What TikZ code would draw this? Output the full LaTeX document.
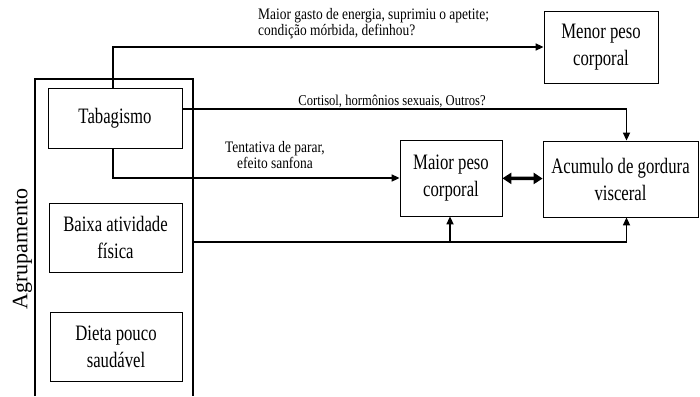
\documentclass[tikz,border=0pt]{standalone}
\usepackage{fontspec}
\setmainfont{Liberation Serif}
\newfontfamily\estreita[FakeStretch=0.76]{Liberation Serif}
\newfontfamily\rotfonte[FakeStretch=0.84]{Liberation Serif}
\usetikzlibrary{arrows.meta}

\begin{document}
\begin{tikzpicture}[x=1pt,y=-1pt,
  >={Triangle[length=8pt,width=7pt]},
  caixa/.style={draw, line width=0.8pt, align=center, inner sep=0pt,
    font=\estreita\fontsize{22}{27}\selectfont},
  rotulo/.style={font=\rotfonte\fontsize{16}{15.5}\selectfont, inner sep=1pt},
  liga/.style={line width=1.6pt}]
\useasboundingbox (0,0) rectangle (700,396);

% grupo de fatores
\draw [liga] (35,396) |- (193,79) -- (193,396);
\node [font=\fontsize{22}{26}\selectfont, rotate=90, inner sep=0pt] (agrup) at (22.5,249) {Agrupamento};
\coordinate (sai) at (193,242);

\node [caixa, minimum width=134pt, minimum height=60pt] (taba) at (115,118) {Tabagismo};
\node [caixa, minimum width=133pt, minimum height=69pt] (baixa) at (115.5,237.5) {Baixa atividade\\física};
\node [caixa, minimum width=132pt, minimum height=69pt] (dieta) at (116,346.5) {Dieta pouco\\saudável};

% desfechos
\node [caixa, minimum width=114pt, minimum height=72pt] (menor) at (601,47) {Menor peso\\corporal};
\node [caixa, minimum width=102pt, minimum height=76pt] (maior) at (451,178) {Maior peso\\corporal};
\node [caixa, minimum width=155pt, minimum height=76pt] (acum) at (620.5,179) {Acumulo de gordura\\visceral};

% ligacoes
\draw [liga, ->] ([xshift=-2pt]taba.north) |- (menor.west);
\draw [liga, ->] ([yshift=9pt]taba.east) -| ([xshift=6pt]acum.north);
\draw [liga, ->] ([xshift=-2pt]taba.south) |- (maior.west);
\draw [liga, ->] (sai) -| ([xshift=6pt]acum.south);
\draw [liga, ->] ([xshift=-1pt]maior.south |- sai) -- ([xshift=-1pt]maior.south);
\draw [line width=3.5pt, {Triangle[length=9pt,width=11pt]}-{Triangle[length=9pt,width=11pt]}] (maior) -- (acum);

% textos
\node [rotulo, align=left, anchor=base west] (t1) at (257,35) {Maior gasto de energia, suprimiu o apetite;\\condição mórbida, definhou?};
\node [rotulo, font=\rotfonte\fontsize{15}{15}\selectfont, anchor=base] (t2) at (392,105) {Cortisol, hormônios sexuais, Outros?};
\node [rotulo, align=center, anchor=base] (t3) at (275,168) {Tentativa de parar,\\efeito sanfona};

%\draw [red] (0,0) grid (700,396);
\end{tikzpicture}
\end{document}
